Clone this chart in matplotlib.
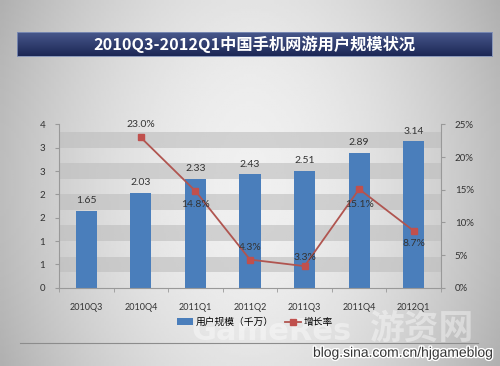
import numpy as np
import matplotlib
matplotlib.use("Agg")
from matplotlib import pyplot as plt
from matplotlib import patheffects as pe
from matplotlib.ticker import FixedLocator, FuncFormatter

plt.rcParams['font.family'] = ['Lato', 'Noto Sans CJK SC', 'DejaVu Sans']

# data
quarters = ['2010Q3', '2010Q4', '2011Q1', '2011Q2', '2011Q3', '2011Q4', '2012Q1']
users = [1.65, 2.03, 2.33, 2.43, 2.51, 2.89, 3.14]           # 千万
growth = [np.nan, 23.0, 14.8, 4.3, 3.3, 15.1, 8.7]            # %
left_ticks = [0, 0.5, 1, 1.5, 2, 2.5, 3, 3.5]
left_labels = ['0', '1', '1', '2', '2', '3', '3', '4']
right_ticks = [0, 5, 10, 15, 20, 25]

title = '2010Q3-2012Q1中国手机网游用户规模状况'

fig = plt.figure(figsize=(5, 3.66), dpi=100)

# grey background, lighter in the middle
bg = fig.add_axes([0, 0, 1, 1], zorder=-10)
xx, yy = np.meshgrid(np.linspace(-1, 1, 200), np.linspace(-1, 1, 150))
shade = 0.94 - 0.20 * (xx ** 2) ** 0.9 - 0.05 * yy ** 2
bg.imshow(shade, cmap='gray', vmin=0, vmax=1, aspect='auto', extent=[0, 1, 0, 1])
bg.axis('off')

# title bar
tb = fig.add_axes([0.034, 0.847, 0.950, 0.066], zorder=-5)
grad = np.linspace(0, 1, 50)[:, None]
top_c = np.array([0x4a, 0x5a, 0x8e]) / 255
bot_c = np.array([0x1c, 0x27, 0x55]) / 255
img = top_c * (1 - grad[..., None]) + bot_c * grad[..., None]
tb.imshow(img, aspect='auto', extent=[0, 1, 0, 1])
tb.set_xticks([])
tb.set_yticks([])
for s in tb.spines.values():
    s.set_color('#8090b8')
    s.set_linewidth(0.6)
fig.text(0.508, 0.879, title, color='white', fontsize=11.7, fontweight='bold',
         ha='center', va='center', family=['Noto Sans CJK SC', 'DejaVu Sans'])

# watermarks (faint, behind the chart texts)
fig.text(0.544, 0.093, 'GameRes', fontsize=22, color='white', alpha=0.4,
         ha='center', va='center', fontweight='bold', family=['DejaVu Sans'], zorder=-1)
fig.text(0.843, 0.104, '游资网', fontsize=25, color='white', alpha=0.4,
         ha='center', va='center', fontweight='bold', family=['Noto Sans CJK SC'], zorder=-1)

ax = fig.add_axes([0.118, 0.214, 0.764, 0.446])
ax.patch.set_visible(False)
x = np.arange(len(quarters))

# alternating bands
for k in range(1, 10, 2):
    ax.axhspan(k / 3, (k + 1) / 3, color='#bdbdbd', alpha=0.6, lw=0, zorder=0)

ax.bar(x, users, width=0.39, color='#4a7ebb', zorder=2, label='用户规模（千万）')
for xi, v in zip(x, users):
    ax.annotate(f'{v:.2f}', (xi, v), xytext=(0, 4), textcoords='offset points',
                ha='center', va='bottom', fontsize=7.5, color='#333333')

ax.set_xlim(-0.5, len(quarters) - 0.5)
ax.set_ylim(0, 3.5)
ax.yaxis.set_major_locator(FixedLocator(left_ticks))
ax.set_yticklabels(left_labels)
ax.set_xticks(x)
ax.set_xticklabels(quarters)
ax.xaxis.set_minor_locator(FixedLocator(np.arange(-0.5, len(quarters), 1)))
ax.tick_params(axis='x', which='major', length=0, pad=11, labelsize=6.5, labelcolor='#333333')
ax.tick_params(axis='x', which='minor', length=3, color='#999999', direction='out')
ax.tick_params(axis='y', length=3, color='#999999', labelsize=7, labelcolor='#333333', pad=7)
for s in ['top', 'right']:
    ax.spines[s].set_visible(False)
for s in ['left', 'bottom']:
    ax.spines[s].set_color('#999999')
    ax.spines[s].set_linewidth(0.8)

ax2 = ax.twinx()
ax2.plot(x, growth, color='#b05550', lw=1.3, marker='s', ms=5,
         markerfacecolor='#c0504d', markeredgecolor='#c0504d', zorder=3, label='增长率')
ax2.set_ylim(0, 25)
ax2.yaxis.set_major_locator(FixedLocator(right_ticks))
ax2.yaxis.set_major_formatter(FuncFormatter(lambda v, p: f'{v:.0f}%'))
ax2.tick_params(axis='y', length=3, color='#999999', labelsize=7, labelcolor='#333333', pad=7)
for s in ['top', 'left', 'bottom']:
    ax2.spines[s].set_visible(False)
ax2.spines['right'].set_color('#999999')
ax2.spines['right'].set_linewidth(0.8)

offsets = [None, 9, -10, 9, 6, -11, -9]
for xi, g, off in zip(x, growth, offsets):
    if off is None:
        continue
    ax2.annotate(f'{g:.1f}%', (xi, g), xytext=(0, off), textcoords='offset points',
                 ha='center', va='center', fontsize=7.5, color='#333333', zorder=4)

h1, l1 = ax.get_legend_handles_labels()
h2, l2 = ax2.get_legend_handles_labels()
fig.legend(h1 + h2, l1 + l2, loc='center', bbox_to_anchor=(0.51, 0.12), ncol=2,
           frameon=False, handlelength=1.6, handletextpad=0.3,
           columnspacing=1.2, prop={'family': ['Noto Sans CJK SC', 'DejaVu Sans'], 'size': 7})

# separator line
fig.add_artist(plt.Line2D([0.04, 0.956], [0.063, 0.063], color='#8c8c8c', lw=0.8))

fig.text(0.986, 0.036, 'blog.sina.com.cn/hjgameblog', fontsize=10, color='#333333',
         ha='right', va='center', family=['Liberation Sans'],
         path_effects=[pe.withStroke(linewidth=2, foreground='white')])

fig.savefig('out.png', dpi=100)
